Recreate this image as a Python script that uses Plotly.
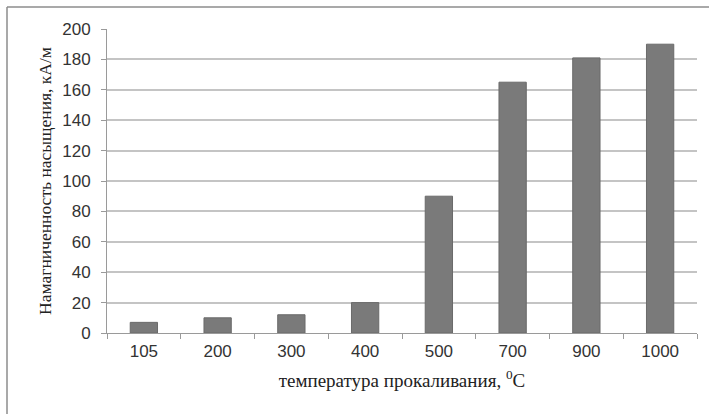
import plotly.graph_objects as go

categories = ["105", "200", "300", "400", "500", "700", "900", "1000"]
values = [7, 10, 12, 20, 90, 165, 181, 190]
y_ticks = [0, 20, 40, 60, 80, 100, 120, 140, 160, 180, 200]

W, H = 709, 414
L, R, T, B = 107, 12, 29, 81
pw, ph = W - L - R, H - T - B

bx0 = (7 - L) / pw
bx1 = (W + 5 - L) / pw
by0 = -(B + 5) / ph
by1 = 1 + (T - 7) / ph
border = dict(color="#8c8c8c", width=1.5)

fig = go.Figure(go.Bar(
    x=categories, y=values,
    marker=dict(color="#7a7a7a", line=dict(color="#6a6a6a", width=1)),
))

fig.update_layout(
    width=W, height=H,
    margin=dict(l=L, r=R, t=T, b=B),
    paper_bgcolor="white", plot_bgcolor="white",
    bargap=0.63,
    showlegend=False,
    font=dict(family="Liberation Sans, Arial", color="#333"),
    shapes=[
        dict(type="line", xref="paper", yref="paper", x0=bx0, x1=bx0, y0=by0, y1=by1,
             line=border, layer="below"),
        dict(type="line", xref="paper", yref="paper", x0=bx0, x1=bx1, y0=by1, y1=by1,
             line=border, layer="below"),
    ],
)

fig.update_xaxes(
    type="category",
    showline=True, linecolor="#9a9a9a", linewidth=1,
    ticks="outside", tickson="boundaries", ticklen=5, tickcolor="#9a9a9a",
    ticklabelstandoff=3,
    tickfont=dict(size=17, family="Liberation Sans, Arial", color="#333"),
    title=dict(text="температура прокаливания, <sup>0</sup>C",
               font=dict(size=19, family="Liberation Serif, Times New Roman", color="#222"),
               standoff=13),
    showgrid=False,
)

fig.update_yaxes(
    range=[0, 200], tickvals=y_ticks,
    showline=True, linecolor="#9a9a9a", linewidth=1,
    ticks="outside", ticklen=5, tickcolor="#9a9a9a",
    ticklabelstandoff=7,
    showgrid=True, gridcolor="#c4c4c4", gridwidth=1.5,
    zeroline=False,
    tickfont=dict(size=17, family="Liberation Sans, Arial", color="#333"),
    title=dict(text="Намагниченность насыщения, кА/м",
               font=dict(size=17.5, family="Liberation Serif, Times New Roman", color="#222"),
               standoff=6),
)

fig.write_html(
    "out.html", config={"displayModeBar": False},
    post_script="document.body.style.margin='0';document.body.style.overflow='hidden';"
                "document.documentElement.style.overflow='hidden';",
)
